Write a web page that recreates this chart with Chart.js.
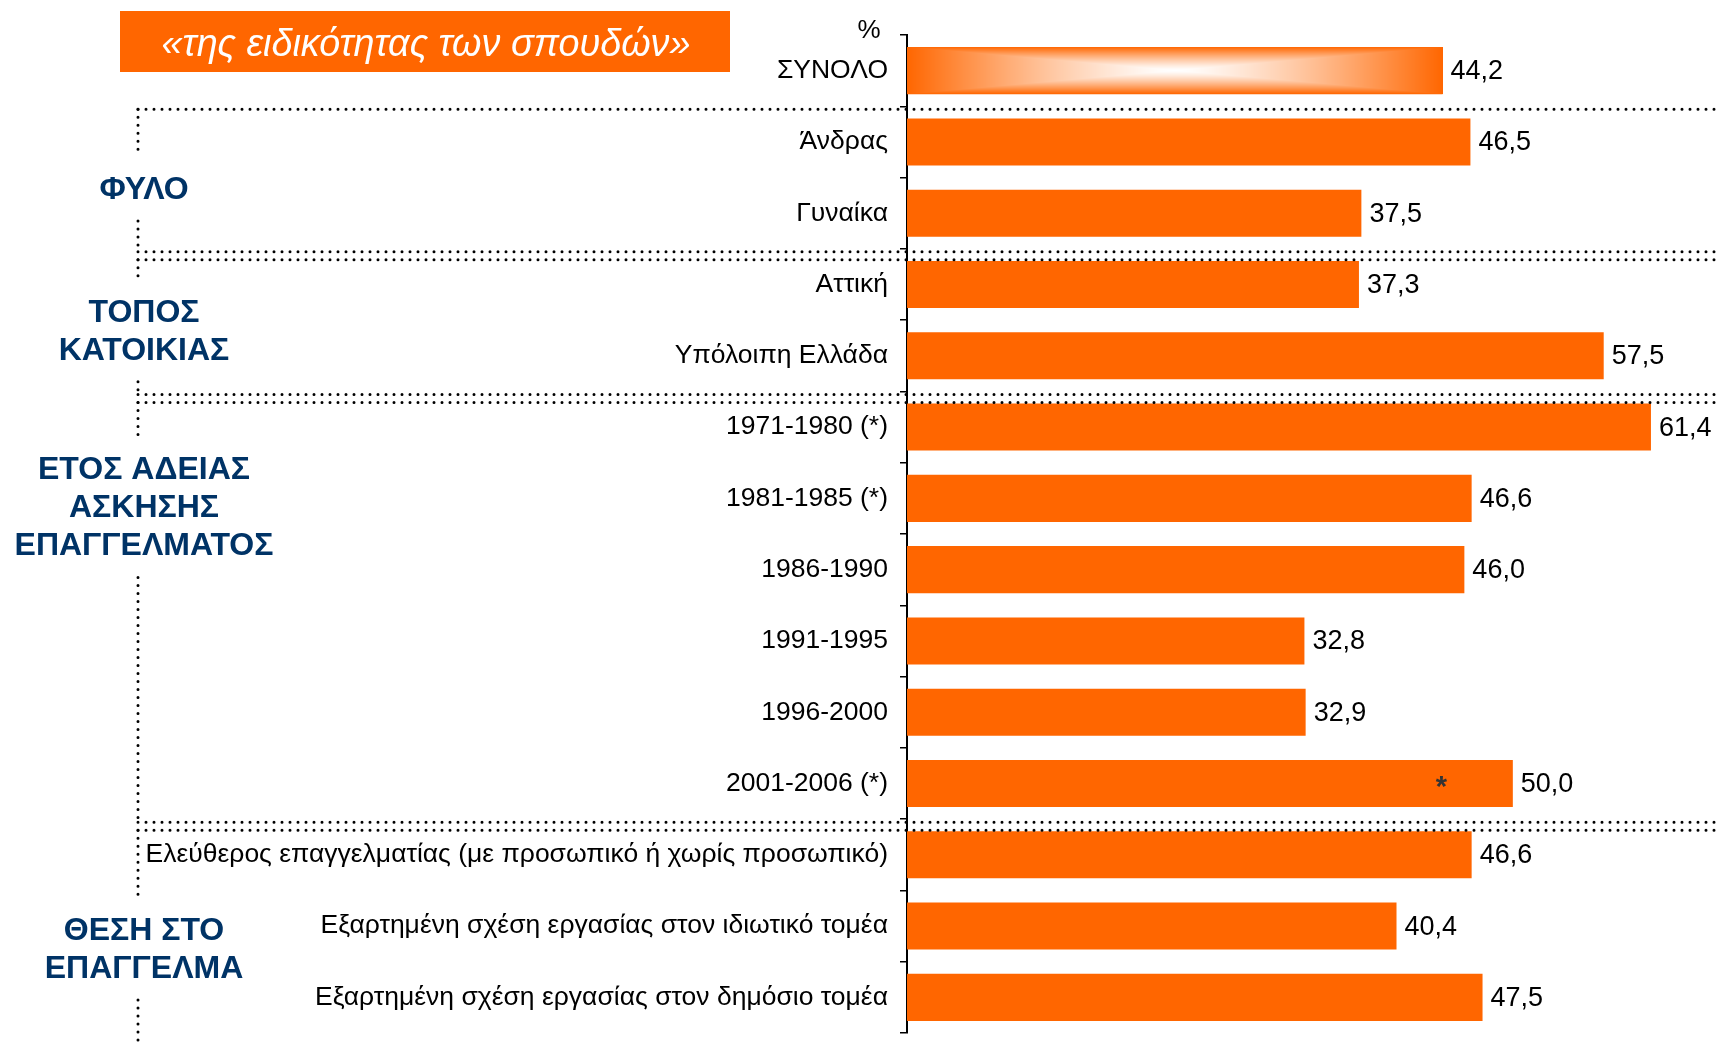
<!DOCTYPE html>
<html>
<head>
<meta charset="utf-8">
<script src="https://cdn.jsdelivr.net/npm/chart.js@4/dist/chart.umd.min.js"></script>
<style>
  html, body { margin: 0; padding: 0; background: #fff; }
  #wrap { width: 1717px; height: 1047px; position: relative; }
</style>
</head>
<body>
<div id="wrap"><canvas id="chart"></canvas></div>
<script>
// δεδομένα του γραφήματος
const categories = [
    'ΣΥΝΟΛΟ',
    'Άνδρας',
    'Γυναίκα',
    'Αττική',
    'Υπόλοιπη Ελλάδα',
    '1971-1980 (*)',
    '1981-1985 (*)',
    '1986-1990',
    '1991-1995',
    '1996-2000',
    '2001-2006 (*)',
    'Ελεύθερος επαγγελματίας (με προσωπικό ή χωρίς προσωπικό)',
    'Εξαρτημένη σχέση εργασίας στον ιδιωτικό τομέα',
    'Εξαρτημένη σχέση εργασίας στον δημόσιο τομέα'
];
const values = [44.2, 46.5, 37.5, 37.3, 57.5, 61.4, 46.6, 46.0, 32.8, 32.9, 50.0, 46.6, 40.4, 47.5];

// ομάδες κατηγοριών (πρώτη και τελευταία κατηγορία της κάθε ομάδας)
const groupNames = [
    ['ΦΥΛΟ'],
    ['ΤΟΠΟΣ', 'ΚΑΤΟΙΚΙΑΣ'],
    ['ΕΤΟΣ ΑΔΕΙΑΣ', 'ΑΣΚΗΣΗΣ', 'ΕΠΑΓΓΕΛΜΑΤΟΣ'],
    ['ΘΕΣΗ ΣΤΟ', 'ΕΠΑΓΓΕΛΜΑ']
];
const groupFirst = [1, 3, 5, 11];
const groupLast = [2, 4, 10, 13];

const titleText = '«της ειδικότητας των σπουδών»';
const unitText = '%';
const starIndex = 10;   // η μπάρα με το αστεράκι

const ORANGE = '#FF6600';
const NAVY = '#003366';
const FONT = "'Liberation Sans', Arial, sans-serif";

function fmt(v) {
    return v.toFixed(1).replace('.', ',');
}

// γραμμή με τελείες
function dotted(ctx, x1, y1, x2, y2) {
    ctx.save();
    ctx.strokeStyle = '#000';
    ctx.lineWidth = 3;
    ctx.lineCap = 'round';
    ctx.setLineDash([0, 8]);
    ctx.beginPath();
    ctx.moveTo(x1, y1);
    ctx.lineTo(x2, y2);
    ctx.stroke();
    ctx.restore();
}

const extrasPlugin = {
    id: 'extras',
    afterDatasetsDraw(chart) {
        const ctx = chart.ctx;
        const yScale = chart.scales.y;
        const xScale = chart.scales.x;
        const meta = chart.getDatasetMeta(0);

        // η πρώτη μπάρα (ΣΥΝΟΛΟ) έχει διαβάθμιση προς το λευκό στο κέντρο
        const el = meta.data[0];
        const p = el.getProps(['x', 'y', 'base', 'height'], true);
        const w = Math.round(p.x - p.base), h = Math.round(p.height);
        const off = document.createElement('canvas');
        off.width = w; off.height = h;
        const octx = off.getContext('2d');
        const img = octx.createImageData(w, h);
        for (let j = 0; j < h; j++) {
            for (let i = 0; i < w; i++) {
                const dx = Math.abs((i + 0.5) - w / 2) / (w / 2);
                const dy = Math.abs((j + 0.5) - h / 2) / (h / 2);
                const t = Math.pow(Math.max(dx, dy), 1.3);
                const k = (j * w + i) * 4;
                img.data[k] = 255;
                img.data[k + 1] = Math.round(255 - (255 - 102) * t);
                img.data[k + 2] = Math.round(255 - 255 * t);
                img.data[k + 3] = 255;
            }
        }
        octx.putImageData(img, 0, 0);
        ctx.drawImage(off, Math.round(p.base), Math.round(p.y - h / 2));

        // ετικέτες τιμών
        ctx.save();
        ctx.fillStyle = '#000';
        ctx.font = '27px ' + FONT;
        ctx.textAlign = 'left';
        ctx.textBaseline = 'middle';
        meta.data.forEach((bar, i) => {
            ctx.fillText(fmt(values[i]), bar.x + 8, bar.y + 1);
        });

        // αστεράκι μέσα στη μπάρα 2001-2006
        const sb = meta.data[starIndex];
        ctx.fillStyle = '#333';
        ctx.textAlign = 'center';
        ctx.font = 'bold 29px ' + FONT;
        ctx.fillText('*', xScale.getPixelForValue(44.1), sb.y + 4);

        // σύμβολο μονάδας
        ctx.fillStyle = '#000';
        ctx.font = '26px ' + FONT;
        ctx.fillText(unitText, 869, 31);
        ctx.restore();

        // διαχωριστικές γραμμές και τίτλοι ομάδων
        const left = 138, right = chart.width;
        const half = (yScale.getPixelForValue(1) - yScale.getPixelForValue(0)) / 2;
        const labelPos = [1.66, 3.65, 6.13, 12.32];
        const lineH = 38;
        groupNames.forEach((lines, g) => {
            const top = yScale.getPixelForValue(groupFirst[g]) - half + (g === 0 ? 3 : 11);
            const isLast = g === groupNames.length - 1;
            const bottom = isLast ? chart.height : yScale.getPixelForValue(groupLast[g]) + half + 3;
            dotted(ctx, left, top, right, top);
            if (!isLast) dotted(ctx, left, bottom, right, bottom);

            const cy = yScale.getPixelForValue(labelPos[g]);
            const firstY = cy - (lines.length - 1) * lineH / 2;
            const lastY = cy + (lines.length - 1) * lineH / 2;
            const gapTop = firstY - 32, gapBottom = lastY + 32;
            dotted(ctx, left, top, left, gapTop);
            dotted(ctx, left, gapBottom, left, bottom);

            ctx.save();
            ctx.fillStyle = NAVY;
            ctx.font = 'bold 32px ' + FONT;
            ctx.textAlign = 'center';
            ctx.textBaseline = 'middle';
            lines.forEach((txt, k) => ctx.fillText(txt, 144, firstY + k * lineH + 1));
            ctx.restore();
        });

        // πορτοκαλί πλαίσιο τίτλου
        ctx.save();
        ctx.fillStyle = ORANGE;
        ctx.fillRect(120, 11, 610, 61);
        ctx.fillStyle = '#fff';
        ctx.font = 'italic 38px ' + "'Liberation Sans Narrow', " + FONT;
        ctx.textBaseline = 'middle';
        ctx.textAlign = 'left';
        const tw = ctx.measureText(titleText).width;
        ctx.translate(426 - 529 / 2, 45);
        ctx.scale(529 / tw, 1);
        ctx.fillText(titleText, 0, 0);
        ctx.restore();
    }
};

new Chart(document.getElementById('chart'), {
    type: 'bar',
    data: {
        labels: categories,
        datasets: [{
            data: values,
            backgroundColor: ORANGE,
            borderWidth: 0,
            categoryPercentage: 1,
            barPercentage: 0.66
        }]
    },
    options: {
        indexAxis: 'y',
        responsive: true,
        maintainAspectRatio: false,
        animation: false,
        layout: { padding: { top: 35, bottom: 14, left: 0, right: 0 } },
        plugins: {
            legend: { display: false },
            title: { display: false },
            tooltip: { enabled: false }
        },
        scales: {
            x: { display: false, min: 0, max: 66.85 },
            y: {
                afterFit: function (scale) {
                    scale.width = 907;
                    scale.paddingTop = 0;
                    scale.paddingBottom = 0;
                },
                grid: {
                    display: true,
                    drawOnChartArea: false,
                    drawTicks: true,
                    tickLength: 7,
                    offset: true,
                    color: '#000',
                    lineWidth: 1.5
                },
                border: { display: true, color: '#000', width: 2 },
                ticks: {
                    color: '#000',
                    autoSkip: false,
                    padding: 12,
                    font: { size: 26.5, family: FONT }
                }
            }
        }
    },
    plugins: [extrasPlugin]
});
</script>
</body>
</html>
